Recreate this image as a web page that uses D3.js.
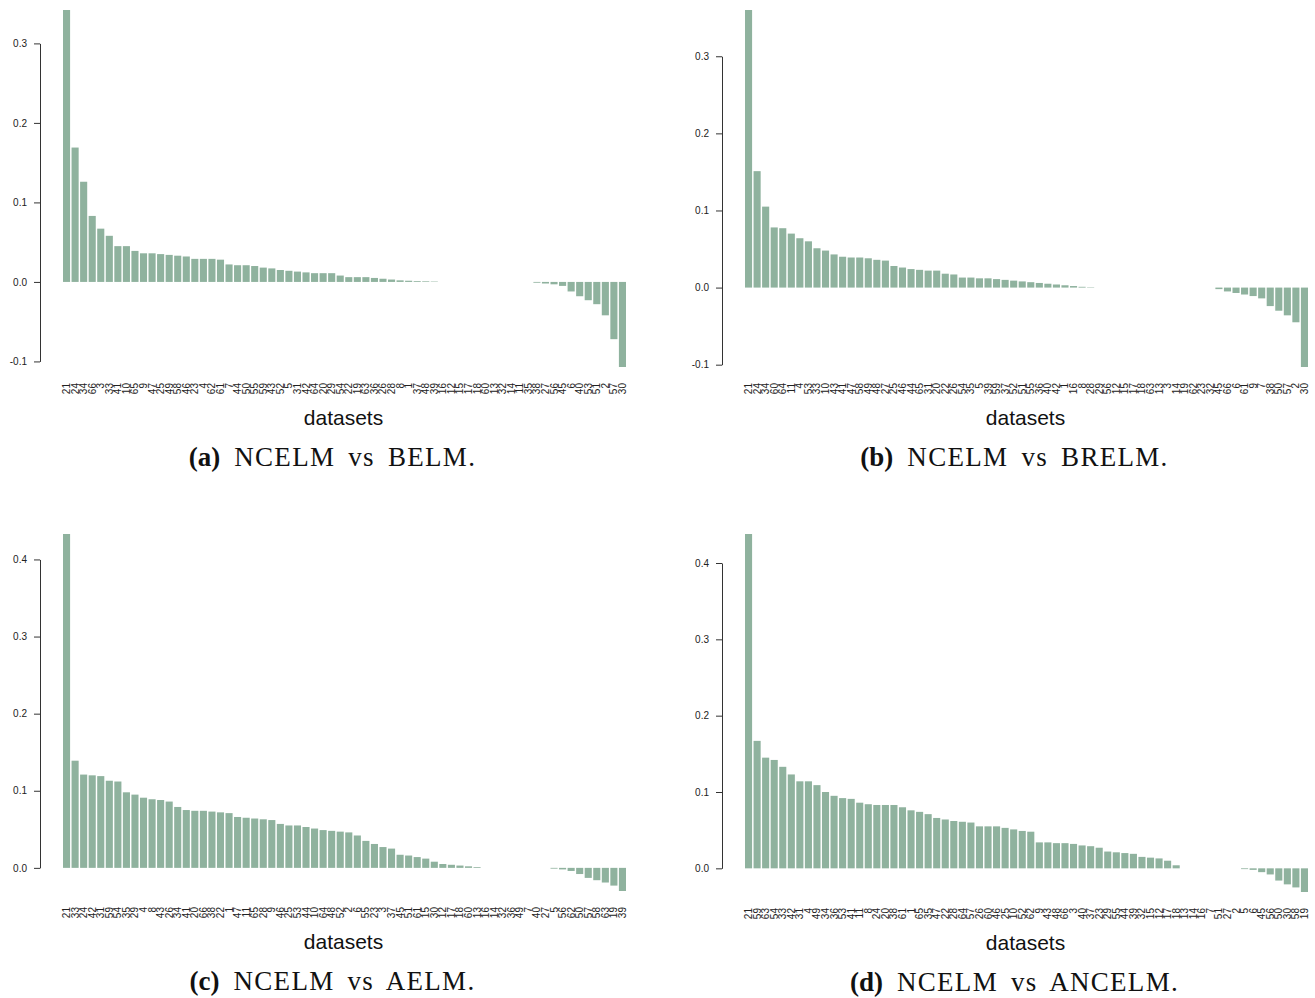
<!DOCTYPE html>
<html lang="en">
<head>
<meta charset="utf-8">
<title>NCELM comparisons</title>
<script src="https://d3js.org/d3.v7.min.js"></script>
<style>
  body { margin: 0; background: #fff; }
  .tick text { font-family: "Liberation Sans", Arial, sans-serif; fill: #222; }
  .xlab { font-family: "Liberation Sans", Arial, sans-serif; font-size: 21px; fill: #111; }
  .cap { font-family: "Liberation Serif", "DejaVu Serif", serif; font-size: 27px; fill: #111; }
</style>
</head>
<body>
<div id="chart"></div>
<script>
// panel (a) NCELM vs BELM
var labelsA = [21,24,34,66,3,33,41,10,65,9,47,25,49,58,46,23,4,62,61,7,44,50,55,59,43,52,5,31,42,64,20,29,54,22,19,63,36,26,28,8,1,37,48,39,16,12,15,17,18,60,13,32,14,11,35,38,27,56,45,6,40,53,51,2,57,30];
var valuesA = [0.342,0.169,0.126,0.083,0.067,0.058,0.045,0.045,0.039,0.036,
  0.036,0.035,0.034,0.033,0.032,0.029,0.029,0.029,0.028,0.022,
  0.021,0.021,0.020,0.018,0.017,0.015,0.014,0.013,0.012,0.011,
  0.011,0.011,0.008,0.006,0.006,0.006,0.005,0.004,0.003,0.002,
  0.0015,0.001,0.0008,0.0005,
  0,0,0,0,0,0,0,0,0,0,0,
  -0.001,-0.002,-0.003,-0.005,-0.012,-0.018,-0.023,-0.028,-0.042,-0.072,-0.107];

// panel (b) NCELM vs BRELM
var labelsB = [21,24,34,60,64,11,4,53,33,10,43,41,47,58,49,48,27,25,46,44,65,31,20,22,26,54,35,5,39,59,37,52,51,55,36,40,42,1,16,8,28,29,56,12,15,17,18,63,13,3,14,19,62,23,32,45,66,6,61,9,7,38,50,57,2,30];
var valuesB = [0.36,0.151,0.105,0.078,0.077,0.070,0.064,0.060,0.051,0.048,
  0.043,0.040,0.039,0.039,0.038,0.036,0.035,0.028,0.026,0.024,
  0.023,0.022,0.022,0.018,0.017,0.013,0.013,0.012,0.012,0.011,
  0.010,0.009,0.008,0.007,0.006,0.005,0.004,0.003,0.002,0.001,0.0005,
  0,0,0,0,0,0,0,0,0,0,0,0,0,0,
  -0.002,-0.005,-0.007,-0.009,-0.011,-0.014,-0.024,-0.030,-0.036,-0.045,-0.103];

// panel (c) NCELM vs AELM
var labelsC = [21,33,24,42,31,59,54,35,29,4,8,43,26,34,41,20,66,38,22,1,47,11,65,28,9,46,25,53,44,10,64,48,52,2,6,55,23,3,37,45,51,61,15,30,12,17,18,60,13,16,14,32,36,49,7,40,27,5,56,62,50,57,58,63,19,39];
var valuesC = [0.433,0.139,0.121,0.120,0.119,0.113,0.112,0.098,0.095,0.091,
  0.089,0.088,0.086,0.079,0.075,0.074,0.074,0.073,0.072,0.071,
  0.066,0.065,0.064,0.063,0.062,0.057,0.055,0.055,0.053,0.051,
  0.049,0.048,0.047,0.046,0.042,0.035,0.031,0.027,0.025,0.017,
  0.016,0.014,0.012,0.008,0.005,0.004,0.003,0.002,0.001,
  0,0,0,0,0,0,0,0,
  -0.001,-0.002,-0.004,-0.008,-0.013,-0.016,-0.019,-0.023,-0.030];

// panel (d) NCELM vs ANCELM
var labelsD = [21,59,63,54,33,42,31,4,49,34,36,53,41,11,8,24,20,38,61,1,65,35,47,22,28,64,57,26,60,46,25,10,52,62,9,43,48,66,3,40,37,23,29,55,44,39,32,15,12,17,18,13,14,16,7,51,27,2,5,6,45,56,50,30,58,19];
var valuesD = [0.438,0.167,0.145,0.142,0.133,0.123,0.114,0.114,0.109,0.100,
  0.095,0.092,0.091,0.086,0.084,0.083,0.083,0.083,0.080,0.076,
  0.074,0.071,0.066,0.064,0.062,0.061,0.060,0.055,0.055,0.055,
  0.053,0.051,0.049,0.048,0.034,0.034,0.033,0.033,0.032,0.030,
  0.029,0.027,0.022,0.021,0.020,0.019,0.015,0.014,0.013,0.010,0.004,
  0,0,0,0,0,0,0,
  -0.001,-0.002,-0.005,-0.008,-0.016,-0.021,-0.025,-0.031];

var ticksAB = [-0.1, 0.0, 0.1, 0.2, 0.3];
var ticksCD = [0.0, 0.1, 0.2, 0.3, 0.4];
var captions = [["(a)", "NCELM vs BELM."], ["(b)", "NCELM vs BRELM."], ["(c)", "NCELM vs AELM."], ["(d)", "NCELM vs ANCELM."]];

var W = 1315, H = 998;
var barColor = "#8fb29e";

var svg = d3.select("#chart").append("svg").attr("width", W).attr("height", H);

function panel(ox, oy, labels, values, ticks, cap, yTop, yBot) {
  var g = svg.append("g").attr("transform", "translate(" + ox + "," + oy + ")");
  var axisX = 40, x0 = 63, x1 = 626;
  var vmax = d3.max(values), vmin = Math.min(0, d3.min(values));
  var y = d3.scaleLinear().domain([vmin, vmax]).range([yBot, yTop]);
  var x = d3.scaleBand().domain(d3.range(values.length)).range([x0, x1]).paddingInner(0.17).paddingOuter(0);

  g.selectAll("rect").data(values).enter().append("rect")
    .attr("x", function(d, i) { return x(i); })
    .attr("width", x.bandwidth())
    .attr("y", function(d) { return y(Math.max(0, d)); })
    .attr("height", function(d) { return Math.abs(y(d) - y(0)); })
    .attr("fill", barColor);

  // y axis, line only across the tick range
  var ya = y.copy().domain([ticks[0], ticks[ticks.length - 1]])
    .range([y(ticks[0]), y(ticks[ticks.length - 1])]);
  var fmt = d3.format(".1f");
  var yAxis = g.append("g").attr("transform", "translate(" + axisX + ",0)")
    .call(d3.axisLeft(ya).tickValues(ticks)
      .tickFormat(function(d) { return fmt(d).replace("\u2212", "-"); })
      .tickSize(6).tickSizeOuter(0).tickPadding(7));
  yAxis.selectAll("text").style("font-size", "10px");
  yAxis.selectAll("path, line").attr("stroke", "#333");

  // x labels, rotated
  var xAxis = g.append("g").attr("transform", "translate(0," + (yBot + 16) + ")")
    .call(d3.axisBottom(x).tickSize(0).tickFormat(function(i) { return labels[i]; }));
  xAxis.select(".domain").remove();
  xAxis.selectAll("text")
    .style("font-size", "10px")
    .attr("transform", "rotate(-90)")
    .attr("text-anchor", "end")
    .attr("x", 0).attr("y", 0).attr("dy", "0.35em");

  g.append("text").attr("class", "xlab")
    .attr("x", (x0 + x1) / 2 - 1).attr("y", yBot + 58)
    .attr("text-anchor", "middle").text("datasets");

  var c = g.append("text").attr("class", "cap")
    .attr("x", (x0 + x1) / 2 - 12).attr("y", yBot + 99)
    .attr("text-anchor", "middle");
  c.append("tspan").attr("font-weight", "bold").text(cap[0]);
  c.append("tspan").attr("dx", "14")
    .style("letter-spacing", "1.3px").style("word-spacing", "5px")
    .text(cap[1]);
}

panel(0, 0, labelsA, valuesA, ticksAB, captions[0], 10, 367);
panel(682, 0, labelsB, valuesB, ticksAB, captions[1], 10, 367);
panel(0, 0, labelsC, valuesC, ticksCD, captions[2], 534, 891);
panel(682, 0, labelsD, valuesD, ticksCD, captions[3], 534, 892);
</script>
</body>
</html>
